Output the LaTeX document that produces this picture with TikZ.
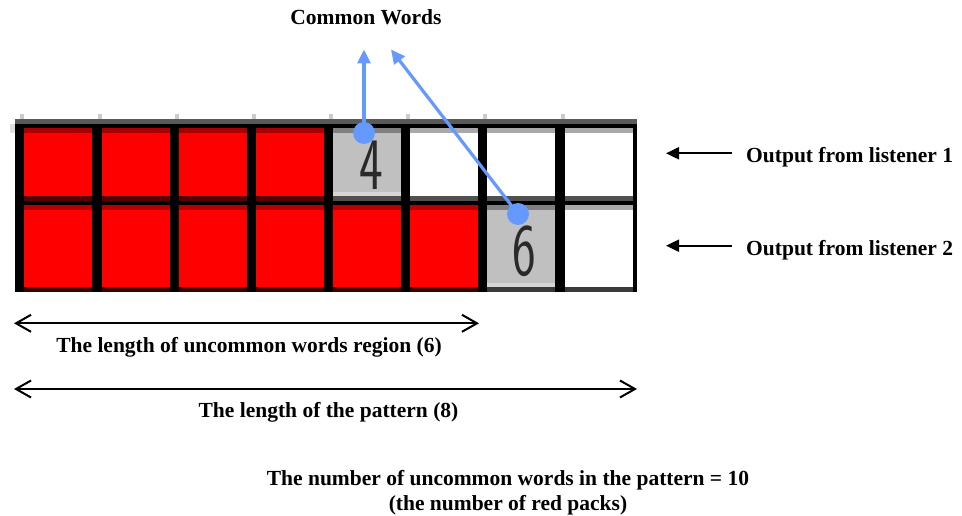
\documentclass[tikz,border=0pt]{standalone}
\usepackage{fontspec}
\setmainfont{Liberation Serif}
\usetikzlibrary{arrows.meta}
\definecolor{cblue}{HTML}{6699FF}
\definecolor{rtopA}{HTML}{A80000}
\definecolor{rbotA}{HTML}{5A0000}
\definecolor{rtopB}{HTML}{B80000}
\definecolor{rbotB}{HTML}{420000}
\definecolor{gband}{HTML}{5A5A5A}
\definecolor{gtick}{HTML}{CCCCCC}
\definecolor{wtop}{HTML}{A9A9A9}
\definecolor{gbody}{HTML}{C0C0C0}
\definecolor{gtop}{HTML}{808080}
\definecolor{glight}{HTML}{D6D6D6}
\definecolor{dbot}{HTML}{505050}
\definecolor{dbotB}{HTML}{3A3A3A}
\definecolor{digitc}{HTML}{2A2A2A}
\begin{document}
\begin{tikzpicture}[x=1pt,y=-1pt,
  lbl/.style={font=\fontsize{21.5}{25}\selectfont\bfseries, inner sep=0pt},
  dot/.style={circle, fill=cblue, minimum size=22pt, inner sep=0pt},
  blueline/.style={draw=cblue, line width=3.2pt, -{Triangle[length=14pt,width=13pt]}},
  outarrow/.style={draw=black, line width=2pt, -{Triangle[length=13pt,width=12pt]}},
  span/.style={draw=black, line width=2pt, {Straight Barb[length=15pt,width=17pt]}-{Straight Barb[length=15pt,width=17pt]}},
  digit/.style={font=\sffamily\fontsize{74}{74}\selectfont, text=digitc, xscale=0.68, inner sep=0pt}
]
\useasboundingbox (0,0) rectangle (962,516);
\fill[white] (0,0) rectangle (962,516);

% grid frame
\fill[gband] (15,119) rectangle (637,124);
\fill[black] (15,124) rectangle (637,292);
\fill[gtick!60] (10,124) rectangle (15,133);
\foreach \x in {24,102,179,256,333,410,487,565}
  \fill[gtick] (\x-4,114) rectangle (\x,119);

% row 1 red cells
\foreach \x in {24,102,179,256} {
  \fill[red] (\x,128) rectangle (\x+68,201);
  \fill[rtopA] (\x,128) rectangle (\x+68,132.7);
  \fill[rbotA] (\x,196.3) rectangle (\x+68,201);
}
% row 1 white cells
\foreach \x in {410,487,565} {
  \fill[white] (\x,128) rectangle (\x+68,201);
  \fill[wtop] (\x,128) rectangle (\x+68,132.7);
  \fill[dbot] (\x,196.3) rectangle (\x+68,201);
}
% row 1 gray cell
\fill[gbody] (333,128) rectangle (401,201);
\fill[gtop] (333,128) rectangle (401,132.7);
\fill[glight] (333,191.6) rectangle (401,196.3);
\fill[dbot] (333,196.3) rectangle (401,201);

% row 2 red cells
\foreach \x in {24,102,179,256,333,410} {
  \fill[red] (\x,205) rectangle (\x+68,292);
  \fill[rtopB] (\x,205) rectangle (\x+68,209.7);
  \fill[rbotB] (\x,287.3) rectangle (\x+68,292);
}
% row 2 gray cell
\fill[gbody] (487,205) rectangle (555,292);
\fill[gtop] (487,205) rectangle (555,209.7);
\fill[glight] (487,282.6) rectangle (555,287.3);
\fill[dbotB] (487,287.3) rectangle (555,292);
% row 2 white cell
\fill[white] (565,205) rectangle (633,292);
\fill[wtop] (565,205) rectangle (633,209.7);
\fill[dbotB] (565,287.3) rectangle (633,292);

% digits
\node[digit] (d4) at (371,165) {4};
\node[digit] (d6) at (524,251) {6};

% common words
\node[lbl, anchor=base] (cw) at (366,25) {Common Words};
\coordinate (t1) at (364,49.5);
\coordinate (t2) at (391,49.5);
\node[dot] (c1) at (364,133) {};
\node[dot] (c2) at (518,214) {};
\draw[blueline] (c1.center) -- (t1);
\draw[blueline] (c2.center) -- (t2);

% outputs
\node[lbl, anchor=base west] (o1) at (746,163) {Output from listener 1};
\node[lbl, anchor=base west] (o2) at (746,255) {Output from listener 2};
\coordinate (o1s) at (732,153.3);
\coordinate (o1e) at (666,153.3);
\coordinate (o2s) at (732,245.7);
\coordinate (o2e) at (666,245.7);
\draw[outarrow] (o1s) -- (o1e);
\draw[outarrow] (o2s) -- (o2e);

% spans
\coordinate (s1a) at (14,323.3);
\coordinate (s1b) at (479,323.3);
\coordinate (s2a) at (14,389);
\coordinate (s2b) at (637,389);
\draw[span] (s1a) -- (s1b);
\draw[span] (s2a) -- (s2b);
\node[lbl, anchor=base] (l1) at (249,352.7) {The length of uncommon words region (6)};
\node[lbl, anchor=base] (l2) at (328.5,417.5) {The length of the pattern (8)};

% bottom text
\node[lbl, anchor=base] (b1) at (508,485) {The number of uncommon words in the pattern = 10};
\node[lbl, anchor=base] (b2) at (508,510) {(the number of red packs)};
\end{tikzpicture}
\end{document}
